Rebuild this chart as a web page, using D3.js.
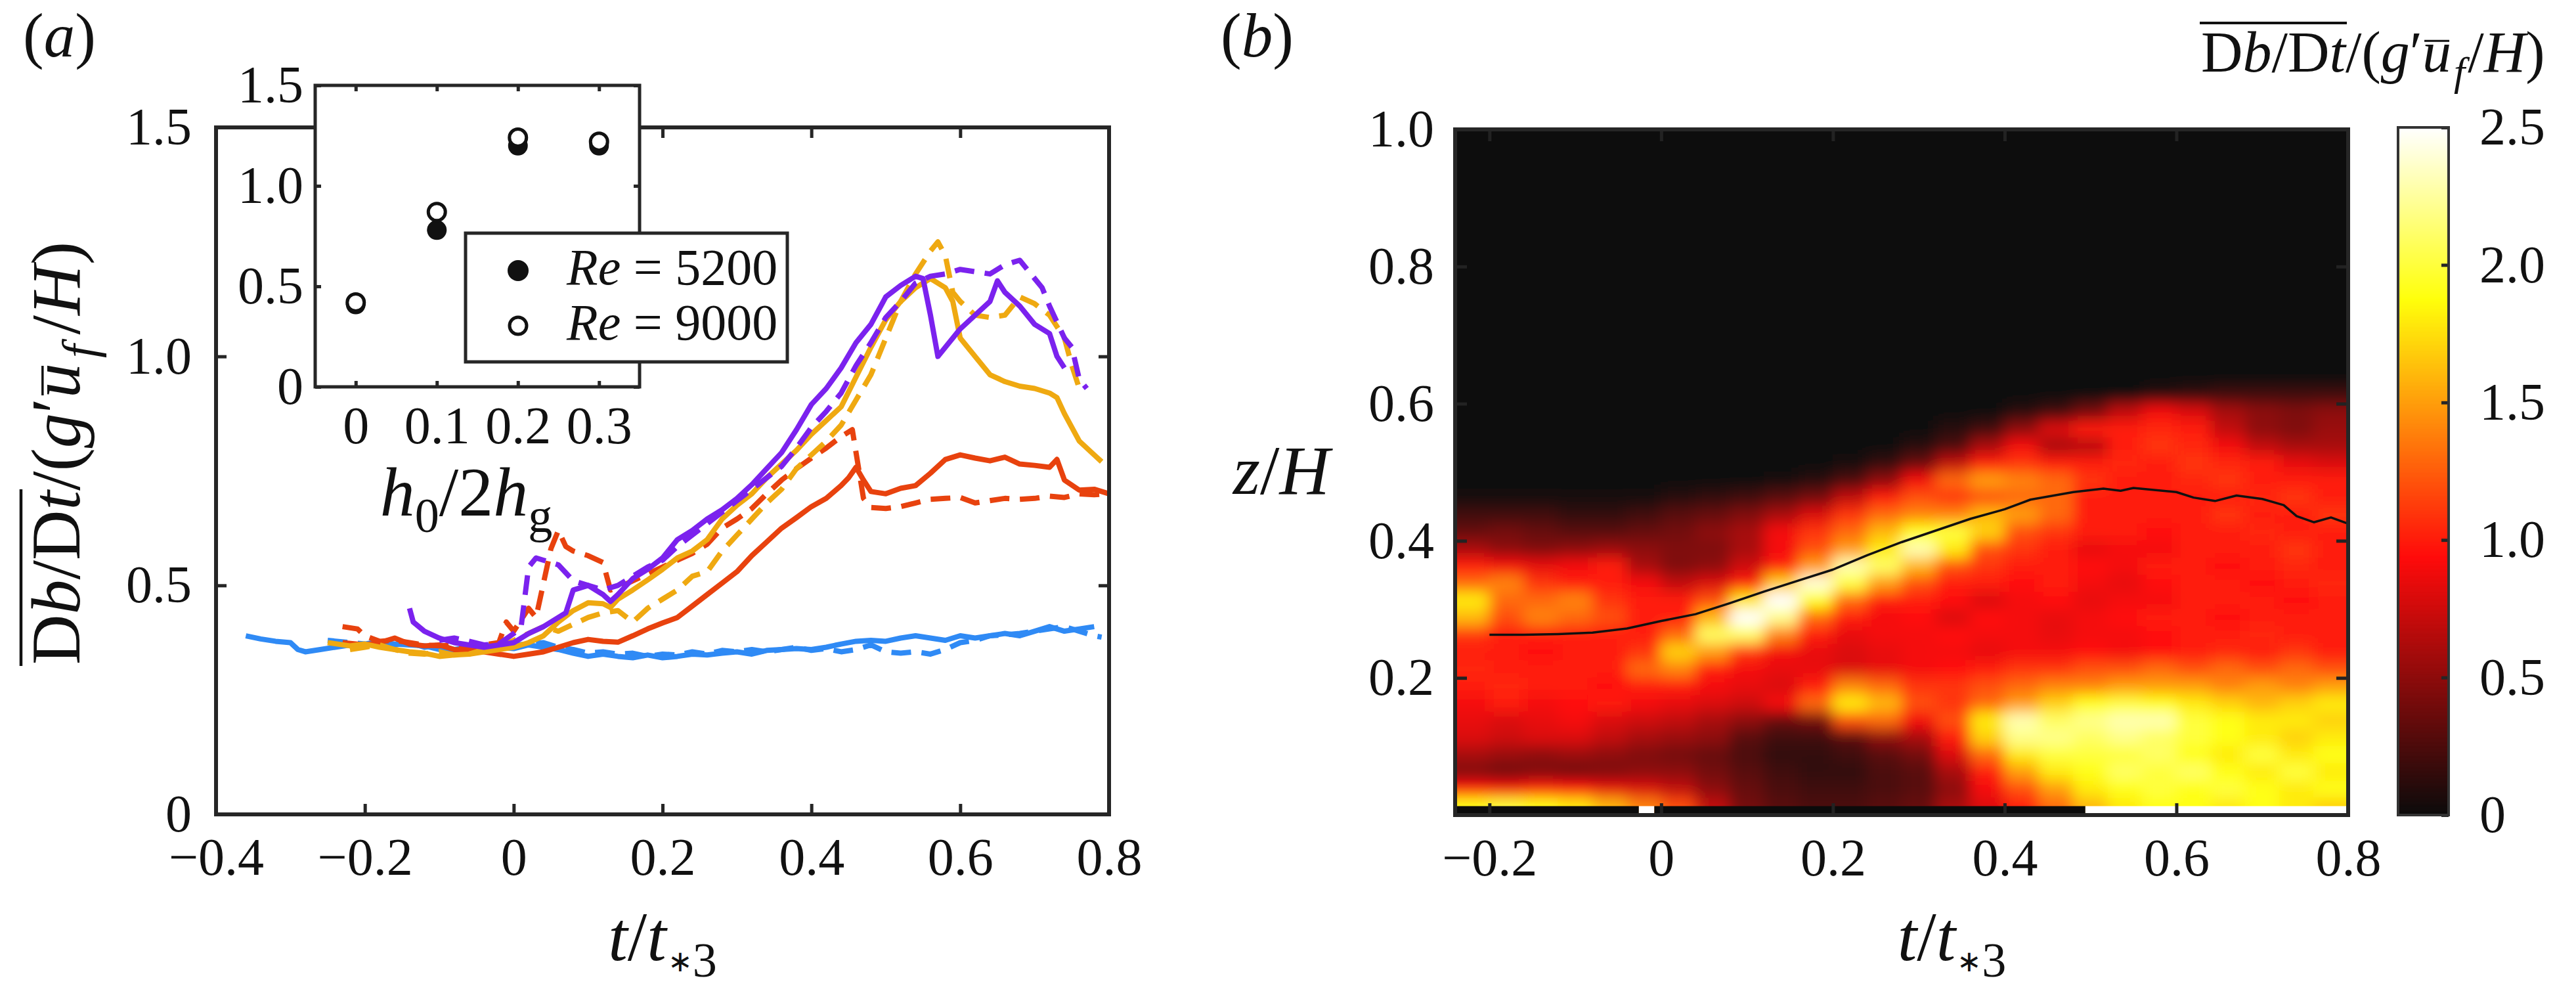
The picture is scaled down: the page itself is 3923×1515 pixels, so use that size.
<!DOCTYPE html>
<html>
<head>
<meta charset="utf-8">
<script src="https://cdn.jsdelivr.net/npm/d3@7"></script>
<style>
  body { margin: 0; background: #fff; }
  text { font-family: "Liberation Serif", "Times New Roman", serif; fill: #111; }
</style>
</head>
<body>
<script>
// ---------- panel (a) data : [t/t*3, value] ----------
var blueSolid = [[-0.36,0.39],[-0.34,0.383],[-0.32,0.378],[-0.30,0.375],[-0.29,0.36],[-0.28,0.355],[-0.26,0.36],[-0.24,0.365],[-0.22,0.37],[-0.20,0.368],[-0.18,0.375],[-0.16,0.372],[-0.14,0.37],[-0.12,0.368],[-0.10,0.36],[-0.08,0.358],[-0.06,0.362],[-0.04,0.36],[-0.02,0.365],[0,0.362],[0.02,0.37],[0.04,0.365],[0.06,0.36],[0.08,0.352],[0.10,0.345],[0.12,0.35],[0.14,0.345],[0.16,0.342],[0.18,0.348],[0.20,0.342],[0.22,0.345],[0.24,0.35],[0.26,0.348],[0.28,0.352],[0.30,0.355],[0.32,0.35],[0.34,0.358],[0.36,0.36],[0.38,0.362],[0.40,0.36],[0.42,0.365],[0.44,0.372],[0.46,0.378],[0.48,0.38],[0.50,0.378],[0.52,0.385],[0.54,0.39],[0.56,0.385],[0.58,0.38],[0.60,0.39],[0.62,0.385],[0.64,0.39],[0.66,0.395],[0.68,0.39],[0.70,0.40],[0.72,0.41],[0.74,0.40],[0.76,0.405],[0.78,0.41]];
var blueDash = [[-0.25,0.38],[-0.22,0.375],[-0.20,0.372],[-0.18,0.378],[-0.16,0.37],[-0.14,0.375],[-0.12,0.365],[-0.10,0.37],[-0.08,0.36],[-0.06,0.365],[-0.04,0.37],[-0.02,0.368],[0,0.37],[0.02,0.372],[0.04,0.375],[0.06,0.365],[0.08,0.36],[0.10,0.352],[0.12,0.355],[0.14,0.35],[0.16,0.352],[0.18,0.345],[0.20,0.35],[0.22,0.348],[0.24,0.355],[0.26,0.35],[0.28,0.358],[0.30,0.355],[0.32,0.36],[0.34,0.355],[0.36,0.36],[0.38,0.365],[0.40,0.358],[0.42,0.362],[0.44,0.355],[0.46,0.36],[0.48,0.37],[0.50,0.355],[0.52,0.352],[0.54,0.355],[0.56,0.35],[0.58,0.36],[0.60,0.375],[0.62,0.38],[0.64,0.39],[0.66,0.392],[0.68,0.395],[0.70,0.40],[0.72,0.405],[0.74,0.41],[0.76,0.40],[0.78,0.39],[0.79,0.387]];
var redSolid = [[-0.23,0.375],[-0.20,0.37],[-0.18,0.375],[-0.16,0.385],[-0.14,0.372],[-0.12,0.368],[-0.10,0.37],[-0.08,0.36],[-0.06,0.358],[-0.04,0.355],[-0.02,0.35],[0,0.345],[0.02,0.35],[0.04,0.355],[0.06,0.365],[0.08,0.375],[0.10,0.382],[0.12,0.378],[0.14,0.376],[0.16,0.39],[0.18,0.405],[0.20,0.418],[0.22,0.43],[0.24,0.455],[0.26,0.48],[0.28,0.505],[0.30,0.53],[0.32,0.565],[0.34,0.595],[0.36,0.625],[0.38,0.648],[0.40,0.672],[0.42,0.69],[0.44,0.718],[0.45,0.735],[0.46,0.758],[0.47,0.73],[0.48,0.705],[0.50,0.70],[0.52,0.712],[0.54,0.718],[0.56,0.745],[0.58,0.775],[0.60,0.785],[0.62,0.778],[0.64,0.772],[0.66,0.78],[0.68,0.765],[0.70,0.762],[0.72,0.758],[0.73,0.775],[0.74,0.73],[0.76,0.708],[0.78,0.71],[0.80,0.70]];
var redDash = [[-0.23,0.41],[-0.21,0.405],[-0.20,0.39],[-0.18,0.378],[-0.16,0.38],[-0.14,0.375],[-0.12,0.37],[-0.10,0.368],[-0.08,0.37],[-0.06,0.365],[-0.04,0.37],[-0.02,0.375],[-0.01,0.42],[0,0.40],[0.02,0.45],[0.03,0.43],[0.05,0.58],[0.06,0.62],[0.07,0.585],[0.08,0.575],[0.10,0.565],[0.12,0.55],[0.13,0.49],[0.14,0.495],[0.16,0.51],[0.18,0.525],[0.20,0.54],[0.22,0.555],[0.24,0.57],[0.26,0.59],[0.28,0.625],[0.30,0.645],[0.32,0.668],[0.34,0.70],[0.36,0.73],[0.38,0.755],[0.40,0.778],[0.42,0.80],[0.44,0.825],[0.455,0.84],[0.47,0.69],[0.48,0.67],[0.50,0.668],[0.52,0.672],[0.54,0.68],[0.56,0.688],[0.58,0.69],[0.60,0.692],[0.62,0.68],[0.64,0.685],[0.66,0.69],[0.68,0.688],[0.70,0.69],[0.72,0.695],[0.74,0.692],[0.76,0.70],[0.78,0.698],[0.80,0.70]];
var yellowSolid = [[-0.25,0.375],[-0.22,0.368],[-0.20,0.372],[-0.18,0.365],[-0.16,0.36],[-0.14,0.355],[-0.12,0.352],[-0.10,0.345],[-0.08,0.348],[-0.06,0.35],[-0.04,0.355],[-0.02,0.36],[0,0.365],[0.02,0.375],[0.04,0.39],[0.06,0.42],[0.08,0.445],[0.10,0.462],[0.12,0.46],[0.13,0.452],[0.14,0.47],[0.16,0.49],[0.18,0.512],[0.20,0.535],[0.22,0.56],[0.24,0.575],[0.26,0.60],[0.28,0.645],[0.30,0.675],[0.32,0.70],[0.34,0.735],[0.36,0.765],[0.38,0.795],[0.40,0.83],[0.42,0.86],[0.44,0.89],[0.46,0.955],[0.48,1.02],[0.50,1.08],[0.52,1.12],[0.54,1.15],[0.56,1.17],[0.58,1.15],[0.59,1.12],[0.60,1.04],[0.62,1.0],[0.64,0.96],[0.66,0.945],[0.68,0.935],[0.70,0.93],[0.72,0.92],[0.73,0.91],[0.74,0.875],[0.76,0.815],[0.78,0.785],[0.79,0.77]];
var yellowDash = [[-0.22,0.36],[-0.20,0.365],[-0.18,0.37],[-0.16,0.36],[-0.14,0.352],[-0.12,0.35],[-0.10,0.355],[-0.08,0.348],[-0.06,0.35],[-0.04,0.36],[-0.02,0.365],[0,0.38],[0.02,0.395],[0.04,0.41],[0.06,0.40],[0.08,0.415],[0.10,0.43],[0.12,0.44],[0.14,0.445],[0.16,0.42],[0.18,0.45],[0.20,0.47],[0.22,0.49],[0.24,0.52],[0.26,0.53],[0.28,0.575],[0.30,0.61],[0.32,0.645],[0.34,0.68],[0.36,0.71],[0.38,0.755],[0.40,0.785],[0.42,0.815],[0.44,0.85],[0.46,0.905],[0.48,0.96],[0.50,1.04],[0.52,1.12],[0.54,1.18],[0.56,1.23],[0.57,1.25],[0.58,1.22],[0.59,1.14],[0.60,1.12],[0.62,1.09],[0.64,1.085],[0.66,1.09],[0.68,1.13],[0.70,1.115],[0.72,1.09],[0.74,1.04],[0.75,0.98],[0.76,0.93]];
var purpleSolid = [[-0.14,0.45],[-0.135,0.42],[-0.12,0.40],[-0.10,0.385],[-0.08,0.375],[-0.06,0.37],[-0.04,0.365],[-0.02,0.37],[0,0.375],[0.02,0.395],[0.04,0.41],[0.06,0.43],[0.07,0.44],[0.08,0.49],[0.10,0.50],[0.12,0.48],[0.13,0.465],[0.14,0.48],[0.16,0.515],[0.18,0.535],[0.20,0.56],[0.22,0.60],[0.24,0.62],[0.26,0.645],[0.28,0.665],[0.30,0.69],[0.32,0.72],[0.34,0.755],[0.36,0.79],[0.38,0.84],[0.40,0.895],[0.42,0.93],[0.44,0.975],[0.46,1.03],[0.48,1.07],[0.50,1.13],[0.52,1.155],[0.54,1.175],[0.55,1.17],[0.56,1.09],[0.57,1.0],[0.58,1.02],[0.60,1.06],[0.62,1.09],[0.64,1.12],[0.65,1.165],[0.66,1.14],[0.68,1.11],[0.70,1.07],[0.72,1.05],[0.73,1.0],[0.74,0.975]];
var purpleDash = [[-0.10,0.38],[-0.08,0.385],[-0.06,0.378],[-0.04,0.37],[-0.02,0.372],[0,0.395],[0.01,0.41],[0.02,0.54],[0.03,0.56],[0.04,0.555],[0.05,0.55],[0.06,0.545],[0.08,0.51],[0.10,0.50],[0.12,0.49],[0.14,0.50],[0.16,0.52],[0.18,0.54],[0.20,0.555],[0.22,0.585],[0.24,0.61],[0.26,0.635],[0.28,0.66],[0.30,0.685],[0.32,0.71],[0.34,0.735],[0.36,0.76],[0.38,0.80],[0.40,0.845],[0.42,0.88],[0.44,0.92],[0.46,0.98],[0.48,1.03],[0.50,1.085],[0.52,1.12],[0.54,1.16],[0.56,1.175],[0.58,1.18],[0.60,1.19],[0.62,1.185],[0.64,1.18],[0.66,1.20],[0.68,1.21],[0.70,1.17],[0.71,1.15],[0.72,1.11],[0.74,1.04],[0.75,1.02],[0.76,0.95],[0.77,0.93]];

var series = [
  { data: blueSolid,   color: "#2f8af5", dash: null },
  { data: blueDash,    color: "#2f8af5", dash: "30,16" },
  { data: redSolid,    color: "#e8420e", dash: null },
  { data: redDash,     color: "#e8420e", dash: "30,16" },
  { data: yellowSolid, color: "#efa911", dash: null },
  { data: yellowDash,  color: "#efa911", dash: "30,16" },
  { data: purpleSolid, color: "#7b22ee", dash: null },
  { data: purpleDash,  color: "#7b22ee", dash: "30,16" }
];

// inset
var insetX = [0, 0.1, 0.2, 0.3];
var re5200 = [0.41, 0.78, 1.20, 1.20];
var re9000 = [0.42, 0.87, 1.24, 1.22];

// ticks
var xTicksA = [-0.4, -0.2, 0, 0.2, 0.4, 0.6, 0.8];
var yTicksA = [0, 0.5, 1.0, 1.5];
var xTicksInset = [0, 0.1, 0.2, 0.3];
var yTicksInset = [0, 0.5, 1.0, 1.5];
var xTicksB = [-0.2, 0, 0.2, 0.4, 0.6, 0.8];
var yTicksB = [0.2, 0.4, 0.6, 0.8, 1.0];
var cTicks = [0, 0.5, 1.0, 1.5, 2.0, 2.5];

// ---------- panel (b) data ----------
var heatT = [-0.22,-0.18,-0.14,-0.10,-0.06,-0.02,0.02,0.06,0.10,0.14,0.18,0.22,0.26,0.30,0.34,0.38,0.42,0.46,0.50,0.54,0.58,0.62,0.66,0.70,0.74,0.78];
var heatZ = [0.6375,0.6125,0.5875,0.5625,0.5375,0.5125,0.4875,0.4625,0.4375,0.4125,0.3875,0.3625,0.3375,0.3125,0.2875,0.2625,0.2375,0.2125,0.1875,0.1625,0.1375,0.1125,0.0875,0.0625,0.0375,0.0125];
var heatRows = [
  [0,0,0,0,0,0,0,0,0,0,0,0,0,0,0,0,0,0,0,0,0,0,0,0,0,0],
  [0,0,0,0,0,0,0,0,0,0,0,0,0,0,0,0,0,0,0,0,0.1,0.15,0.2,0.2,0.2,0.2],
  [0,0,0,0,0,0,0,0,0,0,0,0,0,0,0,0,0.1,0.2,0.4,0.7,0.9,0.8,0.6,0.5,0.45,0.5],
  [0,0,0,0,0,0,0,0,0,0,0,0,0,0,0.1,0.2,0.5,0.8,1.0,1.0,1.05,1.0,0.7,0.5,0.45,0.55],
  [0,0,0,0,0,0,0,0,0,0,0,0,0,0.1,0.25,0.6,0.9,0.6,0.65,1.0,1.1,1.05,0.9,0.7,0.6,0.6],
  [0,0,0,0,0,0,0,0,0,0,0,0.05,0.15,0.35,0.7,1.0,1.1,1.0,1.0,1.05,1.0,1.1,1.05,1.0,0.85,0.8],
  [0,0,0,0,0,0,0,0,0,0.05,0.1,0.25,0.5,0.9,1.3,1.5,1.4,1.3,1.1,1.0,1.0,1.05,1.1,1.0,1.0,1.0],
  [0.05,0.05,0.05,0.05,0.05,0.05,0.1,0.15,0.2,0.3,0.4,0.7,1.0,1.2,1.1,1.2,1.3,1.3,1.0,1.0,1.0,1.0,1.0,1.05,1.1,1.0],
  [0.2,0.2,0.2,0.15,0.15,0.2,0.3,0.35,0.45,0.6,0.8,1.1,1.3,1.4,1.4,1.6,1.5,1.3,1.0,1.0,1.0,1.0,1.1,1.0,1.0,1.1],
  [0.35,0.4,0.35,0.3,0.3,0.35,0.4,0.5,0.6,0.9,1.1,1.3,1.6,1.9,2.0,1.7,1.2,1.1,1.0,1.0,0.95,1.0,1.0,1.05,1.0,1.0],
  [0.6,0.5,0.45,0.5,0.55,0.5,0.45,0.45,0.6,0.9,1.2,1.5,1.8,2.3,1.8,1.2,1.1,1.0,0.85,0.9,0.9,1.0,1.0,1.0,1.1,1.0],
  [1.0,0.9,0.85,0.9,1.0,0.6,0.45,0.5,0.75,1.0,1.5,2.3,2.1,1.6,1.2,1.1,1.0,1.0,0.95,0.9,1.0,1.0,0.95,1.0,1.05,1.0],
  [1.3,1.4,1.1,1.0,1.0,0.9,0.7,0.8,1.0,1.7,2.4,2.0,1.5,1.2,1.0,1.0,0.95,1.0,0.9,0.85,0.95,1.0,1.0,0.95,1.0,1.05],
  [1.8,1.3,1.3,1.4,1.1,1.0,1.0,1.2,1.8,2.5,1.9,1.3,1.0,1.0,0.95,0.8,0.9,0.95,0.85,0.9,0.9,1.0,1.0,1.0,0.95,1.0],
  [1.6,1.2,1.4,1.3,1.2,1.0,1.0,1.6,2.5,2.2,1.3,1.0,0.9,0.95,0.8,0.95,0.9,0.85,0.9,0.95,1.0,1.0,0.95,1.0,1.0,1.0],
  [1.1,1.0,1.0,1.0,1.0,1.0,1.3,2.1,2.1,1.4,1.0,0.85,0.9,0.9,0.95,0.9,0.9,0.85,0.9,0.9,0.95,1.0,1.0,1.05,1.0,1.0],
  [1.0,1.0,0.95,1.0,1.0,1.1,1.7,1.5,1.1,0.9,0.85,0.8,0.85,0.9,0.9,0.85,0.9,0.9,0.95,0.9,0.95,1.0,1.05,1.0,1.1,1.0],
  [1.05,1.0,1.0,1.0,1.0,1.3,1.4,1.0,0.9,0.85,0.85,0.8,0.85,0.9,0.95,1.0,1.1,1.1,1.2,1.2,1.3,1.2,1.3,1.2,1.3,1.2],
  [1.0,1.05,1.0,1.0,0.95,1.0,1.0,0.9,0.85,0.8,1.0,1.4,1.3,1.1,1.1,1.2,1.3,1.4,1.4,1.5,1.5,1.5,1.4,1.5,1.4,1.5],
  [0.9,1.0,0.9,0.95,1.0,0.9,0.85,0.8,0.75,0.9,1.3,1.8,1.6,1.2,1.1,1.3,1.5,1.7,1.9,2.0,1.9,1.8,1.7,1.6,1.7,1.8],
  [0.85,0.8,0.85,0.9,0.8,0.75,0.7,0.6,0.5,0.35,0.4,1.2,1.3,0.9,1.2,1.8,2.3,2.1,2.2,2.3,2.3,2.0,1.9,1.8,1.8,1.7],
  [0.8,0.75,0.8,0.8,0.7,0.6,0.55,0.5,0.3,0.2,0.2,0.3,0.5,0.6,1.0,1.7,2.2,2.2,2.1,2.2,2.1,2.0,1.9,1.8,1.7,1.8],
  [0.6,0.55,0.5,0.55,0.5,0.45,0.4,0.35,0.25,0.15,0.15,0.2,0.3,0.4,0.8,1.3,1.8,2.0,2.0,2.0,2.1,1.9,1.8,2.0,1.8,1.9],
  [0.45,0.4,0.45,0.4,0.45,0.5,0.5,0.4,0.3,0.2,0.15,0.15,0.25,0.3,0.6,1.0,1.5,1.8,1.9,2.1,2.0,2.1,1.9,1.8,2.0,1.8],
  [0.95,0.9,1.0,0.95,0.85,0.8,0.7,0.5,0.35,0.25,0.2,0.2,0.25,0.3,0.5,0.9,1.2,1.5,1.8,1.9,2.0,1.9,2.0,1.9,1.8,1.9],
  [1.9,2.0,1.9,1.8,1.6,1.4,1.2,0.7,0.4,0.3,0.25,0.25,0.3,0.35,0.6,0.8,1.0,1.3,1.6,1.8,1.9,1.9,1.8,1.9,1.8,1.7]
];
// thin strip along the floor: [t0, t1, value]
var floorSegs = [[-0.24,-0.026,0],[-0.026,-0.008,2.5],[-0.008,0.494,0],[0.494,0.80,2.5]];
// mean height line
var meanT = [-0.20,-0.16,-0.12,-0.08,-0.04,0,0.04,0.08,0.12,0.16,0.20,0.24,0.28,0.32,0.36,0.40,0.43,0.48,0.515,0.535,0.55,0.60,0.62,0.645,0.67,0.70,0.725,0.74,0.76,0.78,0.80];
var meanZ = [0.263,0.263,0.264,0.266,0.272,0.283,0.293,0.309,0.326,0.342,0.358,0.379,0.398,0.415,0.432,0.446,0.46,0.471,0.476,0.473,0.477,0.471,0.463,0.458,0.466,0.461,0.452,0.436,0.427,0.434,0.425];

// ---------- setup ----------
var W = 3923, H = 1515;
var AX = "#262626";
var TICK_FS = 80, LAB_FS = 106;

var svg = d3.select("body").append("svg").attr("width", W).attr("height", H);
var defs = svg.append("defs");

function fmt(d) {
  if (Math.abs(d) < 1e-9) return "0";
  return (d < 0 ? "\u2212" : "") + Math.abs(d).toFixed(1);
}

// rich text: parts = [{s, i, sub, k, dx}]
function richText(g, parts, fs, anchor) {
  var t = g.append("text").attr("font-size", fs).attr("text-anchor", anchor || "start");
  var shift = 0;
  parts.forEach(function(p) {
    var s = t.append("tspan").text(p.s);
    if (p.i) s.attr("font-style", "italic");
    var target = p.sub ? 0.24 * fs : 0;
    if (p.k) target -= 0.08 * fs;
    if (target !== shift) { s.attr("dy", target - shift); shift = target; }
    if (p.sub) s.attr("font-size", fs * 0.7 * (p.k || 1));
    if (p.dx) s.attr("dx", p.dx);
  });
  return t;
}
function charIndex(parts, k) {
  var n = 0;
  for (var i = 0; i < k; i++) n += parts[i].s.length;
  return n;
}
function overline(g, t, parts, p0, p1, yOff, sw, pad) {
  var node = t.node();
  var a = node.getStartPositionOfChar(charIndex(parts, p0)).x;
  var b = node.getEndPositionOfChar(charIndex(parts, p1) + parts[p1].s.length - 1).x;
  g.append("line").attr("x1", a - pad).attr("x2", b + pad)
    .attr("y1", -yOff).attr("y2", -yOff)
    .attr("stroke", "#111").attr("stroke-width", sw);
}

var dbdtParts = [
  {s: "D"}, {s: "b", i: true}, {s: "/"}, {s: "D"}, {s: "t", i: true},
  {s: "/("}, {s: "g", i: true}, {s: "\u2032"}, {s: "u", i: true}, {s: "f", i: true, sub: true, dx: 8},
  {s: "/", dx: 15}, {s: "H", i: true}, {s: ")"}
];
var ttParts = [{s: "t", i: true}, {s: "/"}, {s: "t", i: true}, {s: "\u2217", sub: true, k: 0.6, dx: 2}, {s: "3", sub: true}];

// ================= panel (a) =================
var xa = d3.scaleLinear().domain([-0.4, 0.8]).range([329, 1689]);
var ya = d3.scaleLinear().domain([0, 1.5]).range([1240, 194]);

var pa = svg.append("g");
pa.append("rect").attr("x", xa(-0.4)).attr("y", ya(1.5))
  .attr("width", xa(0.8) - xa(-0.4)).attr("height", ya(0) - ya(1.5)).attr("fill", "#fff");

var line = d3.line().x(function(d) { return xa(d[0]); }).y(function(d) { return ya(d[1]); });
pa.selectAll("path.series").data(series).enter().append("path")
  .attr("class", "series")
  .attr("d", function(d) { return line(d.data); })
  .attr("fill", "none")
  .attr("stroke", function(d) { return d.color; })
  .attr("stroke-width", 8)
  .attr("stroke-linejoin", "round")
  .attr("stroke-dasharray", function(d) { return d.dash; });

function styleAxis(g, fs) {
  g.select(".domain").remove();
  g.selectAll(".tick line").attr("stroke", AX).attr("stroke-width", 5);
  g.selectAll(".tick text").attr("font-size", fs).attr("fill", "#111")
    .style("font-family", '"Liberation Serif", "Times New Roman", serif');
}

pa.append("g").attr("transform", "translate(0," + ya(0) + ")")
  .call(d3.axisBottom(xa).tickValues(xTicksA).tickFormat(fmt).tickSizeInner(-16).tickSizeOuter(0).tickPadding(35))
  .call(styleAxis, TICK_FS);
pa.append("g").attr("transform", "translate(0," + ya(1.5) + ")")
  .call(d3.axisTop(xa).tickValues(xTicksA).tickFormat("").tickSizeInner(-16).tickSizeOuter(0))
  .call(styleAxis, TICK_FS);
pa.append("g").attr("transform", "translate(" + xa(-0.4) + ",0)")
  .call(d3.axisLeft(ya).tickValues(yTicksA).tickFormat(fmt).tickSizeInner(-16).tickSizeOuter(0).tickPadding(37))
  .call(styleAxis, TICK_FS);
pa.append("g").attr("transform", "translate(" + xa(0.8) + ",0)")
  .call(d3.axisRight(ya).tickValues(yTicksA).tickFormat("").tickSizeInner(-16).tickSizeOuter(0))
  .call(styleAxis, TICK_FS);
pa.append("rect").attr("x", xa(-0.4)).attr("y", ya(1.5))
  .attr("width", xa(0.8) - xa(-0.4)).attr("height", ya(0) - ya(1.5))
  .attr("fill", "none").attr("stroke", AX).attr("stroke-width", 6);

// axis labels
var xlabA = pa.append("g").attr("transform", "translate(" + (xa(-0.4) + xa(0.8)) / 2 + ",1462)");
richText(xlabA, ttParts, LAB_FS, "middle");

var ylabA = pa.append("g").attr("transform", "translate(121,690) rotate(-90)");
var ylt = richText(ylabA, dbdtParts, LAB_FS, "middle");
overline(ylabA, ylt, dbdtParts, 0, 4, 0.84 * LAB_FS, 4.5, 2);
overline(ylabA, ylt, dbdtParts, 8, 8, 0.53 * LAB_FS, 3.5, -4);

pa.append("text").attr("x", 35).attr("y", 86).attr("font-size", 95)
  .html('(<tspan font-style="italic">a</tspan>)');

// ---- inset ----
var xi = d3.scaleLinear().domain([-0.05, 0.35]).range([480, 974]);
var yi = d3.scaleLinear().domain([0, 1.5]).range([589, 130]);
var ins = svg.append("g");
ins.append("rect").attr("x", xi(-0.05)).attr("y", yi(1.5))
  .attr("width", xi(0.35) - xi(-0.05)).attr("height", yi(0) - yi(1.5)).attr("fill", "#fff");
ins.append("g").attr("transform", "translate(0," + yi(0) + ")")
  .call(d3.axisBottom(xi).tickValues(xTicksInset).tickFormat(function(d) { return d === 0 ? "0" : d.toFixed(1); })
    .tickSizeInner(-9).tickSizeOuter(0).tickPadding(29))
  .call(styleAxis, TICK_FS);
ins.append("g").attr("transform", "translate(0," + yi(1.5) + ")")
  .call(d3.axisTop(xi).tickValues(xTicksInset).tickFormat("").tickSizeInner(-9).tickSizeOuter(0))
  .call(styleAxis, TICK_FS);
ins.append("g").attr("transform", "translate(" + xi(-0.05) + ",0)")
  .call(d3.axisLeft(yi).tickValues(yTicksInset).tickFormat(fmt).tickSizeInner(-9).tickSizeOuter(0).tickPadding(18))
  .call(styleAxis, TICK_FS);
ins.append("g").attr("transform", "translate(" + xi(0.35) + ",0)")
  .call(d3.axisRight(yi).tickValues(yTicksInset).tickFormat("").tickSizeInner(-9).tickSizeOuter(0))
  .call(styleAxis, TICK_FS);
ins.append("rect").attr("x", xi(-0.05)).attr("y", yi(1.5))
  .attr("width", xi(0.35) - xi(-0.05)).attr("height", yi(0) - yi(1.5))
  .attr("fill", "none").attr("stroke", AX).attr("stroke-width", 5);

ins.selectAll("circle.f").data(insetX).enter().append("circle").attr("class", "f")
  .attr("cx", function(d) { return xi(d); }).attr("cy", function(d, i) { return yi(re5200[i]); })
  .attr("r", 15).attr("fill", "#111");
ins.selectAll("circle.o").data(insetX).enter().append("circle").attr("class", "o")
  .attr("cx", function(d) { return xi(d); }).attr("cy", function(d, i) { return yi(re9000[i]); })
  .attr("r", 13).attr("fill", "#fff").attr("stroke", "#111").attr("stroke-width", 5);

var insLab = ins.append("g").attr("transform", "translate(" + ((xi(-0.05) + xi(0.35)) / 2 - 17) + ",785)");
richText(insLab, [{s: "h", i: true}, {s: "0", sub: true}, {s: "/2"}, {s: "h", i: true}, {s: "g", sub: true}], LAB_FS, "middle");

// legend
var leg = svg.append("g");
leg.append("rect").attr("x", 709).attr("y", 355).attr("width", 490).attr("height", 196)
  .attr("fill", "#fff").attr("stroke", AX).attr("stroke-width", 5);
leg.append("circle").attr("cx", 789).attr("cy", 412).attr("r", 16).attr("fill", "#111");
leg.append("circle").attr("cx", 789).attr("cy", 496).attr("r", 13).attr("fill", "#fff").attr("stroke", "#111").attr("stroke-width", 5);
[["5200", 433], ["9000", 517]].forEach(function(r) {
  leg.append("text").attr("x", 863).attr("y", r[1]).attr("font-size", 78)
    .html('<tspan font-style="italic">Re</tspan> = ' + r[0]);
});

// ================= panel (b) =================
var xb = d3.scaleLinear().domain([-0.24, 0.8]).range([2216, 3576]);
var yb = d3.scaleLinear().domain([0, 1]).range([1241, 197]);
var yc = d3.scaleLinear().domain([0, 2.5]).range([1241, 194]);

function hotInterp(x) {
  var r = Math.min(1, x / 0.375),
      g = Math.min(1, Math.max(0, (x - 0.375) / 0.375)),
      b = Math.max(0, (x - 0.75) / 0.25),
      lo = 11;
  return d3.rgb(lo + (255 - lo) * r, lo + (255 - lo) * g, lo + (255 - lo) * b).toString();
}
var cmap = d3.scaleSequential(hotInterp).domain([0, 2.5]).clamp(true);

var bx0 = xb(-0.24), bx1 = xb(0.8), by0 = yb(1), by1 = yb(0), PAD = 45;
defs.append("clipPath").attr("id", "clipB").append("rect")
  .attr("x", bx0).attr("y", by0).attr("width", bx1 - bx0).attr("height", by1 - by0);
var flt = defs.append("filter").attr("id", "soft").attr("filterUnits", "userSpaceOnUse")
  .attr("x", bx0 - PAD).attr("y", by0 - PAD).attr("width", bx1 - bx0 + 2 * PAD).attr("height", by1 - by0 + 2 * PAD);
flt.append("feGaussianBlur").attr("stdDeviation", 11);

var pb = svg.append("g");
var heatClip = pb.append("g").attr("clip-path", "url(#clipB)");
heatClip.append("rect").attr("x", bx0).attr("y", by0)
  .attr("width", bx1 - bx0).attr("height", by1 - by0).attr("fill", cmap(0));
var heat = heatClip.append("g").attr("filter", "url(#soft)");
heat.append("rect").attr("x", bx0 - PAD).attr("y", by0 - PAD)
  .attr("width", bx1 - bx0 + 2 * PAD).attr("height", by1 - by0 + 2 * PAD).attr("fill", cmap(0));

var cells = [];
heatRows.forEach(function(row, r) {
  row.forEach(function(v, c) { cells.push({t: heatT[c], z: heatZ[r], v: v, c: c, r: r}); });
});
// edge cells are stretched past the frame so the softening does not fade at the border
var nC = heatT.length - 1, nR = heatZ.length - 1;
heat.selectAll("rect.cell").data(cells).enter().append("rect").attr("class", "cell")
  .attr("x", function(d) { return xb(d.t - 0.02) - 0.5 - (d.c === 0 ? PAD : 0); })
  .attr("y", function(d) { return yb(d.z + 0.0125) - 0.5; })
  .attr("width", function(d) { return xb(d.t + 0.02) - xb(d.t - 0.02) + 1 + (d.c === 0 || d.c === nC ? PAD : 0); })
  .attr("height", function(d) { return yb(d.z - 0.0125) - yb(d.z + 0.0125) + 1 + (d.r === nR ? PAD : 0); })
  .attr("fill", function(d) { return cmap(d.v); });

heatClip.selectAll("rect.floor").data(floorSegs).enter().append("rect").attr("class", "floor")
  .attr("x", function(d) { return xb(d[0]); }).attr("y", yb(0.013))
  .attr("width", function(d) { return xb(d[1]) - xb(d[0]); }).attr("height", yb(0) - yb(0.013))
  .attr("fill", function(d) { return cmap(d[2]); });

var mline = d3.line().x(function(d) { return xb(d); }).y(function(d, i) { return yb(meanZ[i]); });
pb.append("path").attr("d", mline(meanT)).attr("fill", "none")
  .attr("stroke", "#111").attr("stroke-width", 3.5).attr("stroke-linejoin", "round");

pb.append("g").attr("transform", "translate(0," + yb(0) + ")")
  .call(d3.axisBottom(xb).tickValues(xTicksB).tickFormat(fmt).tickSizeInner(-18).tickSizeOuter(0).tickPadding(35))
  .call(styleAxis, TICK_FS);
pb.append("g").attr("transform", "translate(0," + yb(1) + ")")
  .call(d3.axisTop(xb).tickValues(xTicksB).tickFormat("").tickSizeInner(-18).tickSizeOuter(0))
  .call(styleAxis, TICK_FS);
pb.append("g").attr("transform", "translate(" + xb(-0.24) + ",0)")
  .call(d3.axisLeft(yb).tickValues(yTicksB).tickFormat(fmt).tickSizeInner(-18).tickSizeOuter(0).tickPadding(32))
  .call(styleAxis, TICK_FS);
pb.append("g").attr("transform", "translate(" + xb(0.8) + ",0)")
  .call(d3.axisRight(yb).tickValues(yTicksB).tickFormat("").tickSizeInner(-18).tickSizeOuter(0))
  .call(styleAxis, TICK_FS);
pb.selectAll(".tick line").attr("stroke", "#222");
pb.append("rect").attr("x", bx0).attr("y", by0)
  .attr("width", bx1 - bx0).attr("height", by1 - by0)
  .attr("fill", "none").attr("stroke", AX).attr("stroke-width", 6);

// colorbar
var cb = svg.append("g");
var cx0 = 3652, cx1 = 3729;
cb.selectAll("rect.cbar").data(d3.range(0, 2.5, 0.005)).enter().append("rect").attr("class", "cbar")
  .attr("x", cx0).attr("width", cx1 - cx0)
  .attr("y", function(d) { return yc(d + 0.005) - 0.5; })
  .attr("height", function(d) { return yc(d) - yc(d + 0.005) + 1; })
  .attr("fill", function(d) { return cmap(d + 0.0025); });
cb.append("g").attr("transform", "translate(" + cx1 + ",0)")
  .call(d3.axisRight(yc).tickValues(cTicks).tickFormat(fmt).tickSizeInner(-11).tickSizeOuter(0).tickPadding(47))
  .call(styleAxis, TICK_FS);
cb.append("rect").attr("x", cx0).attr("y", yc(2.5)).attr("width", cx1 - cx0).attr("height", yc(0) - yc(2.5))
  .attr("fill", "none").attr("stroke", "#333").attr("stroke-width", 4);

// colorbar title
var ctParts = dbdtParts.map(function(p) { return p.dx ? {s: p.s, i: p.i, sub: p.sub, dx: 4} : p; });
var ctG = cb.append("g").attr("transform", "translate(3352,109)");
var ctT = richText(ctG, ctParts, 88, "start");
overline(ctG, ctT, ctParts, 0, 4, 0.84 * 88, 4, 2);
overline(ctG, ctT, ctParts, 8, 8, 0.53 * 88, 3, -3);

// labels panel b
var xlabB = pb.append("g").attr("transform", "translate(" + (bx0 + cx1) / 2 + ",1462)");
richText(xlabB, ttParts, LAB_FS, "middle");
var zl = pb.append("g").attr("transform", "translate(2025,752)");
richText(zl, [{s: "z", i: true}, {s: "/"}, {s: "H", i: true}], LAB_FS, "end");
pb.append("text").attr("x", 1859).attr("y", 86).attr("font-size", 95)
  .html('(<tspan font-style="italic">b</tspan>)');
</script>
</body>
</html>
